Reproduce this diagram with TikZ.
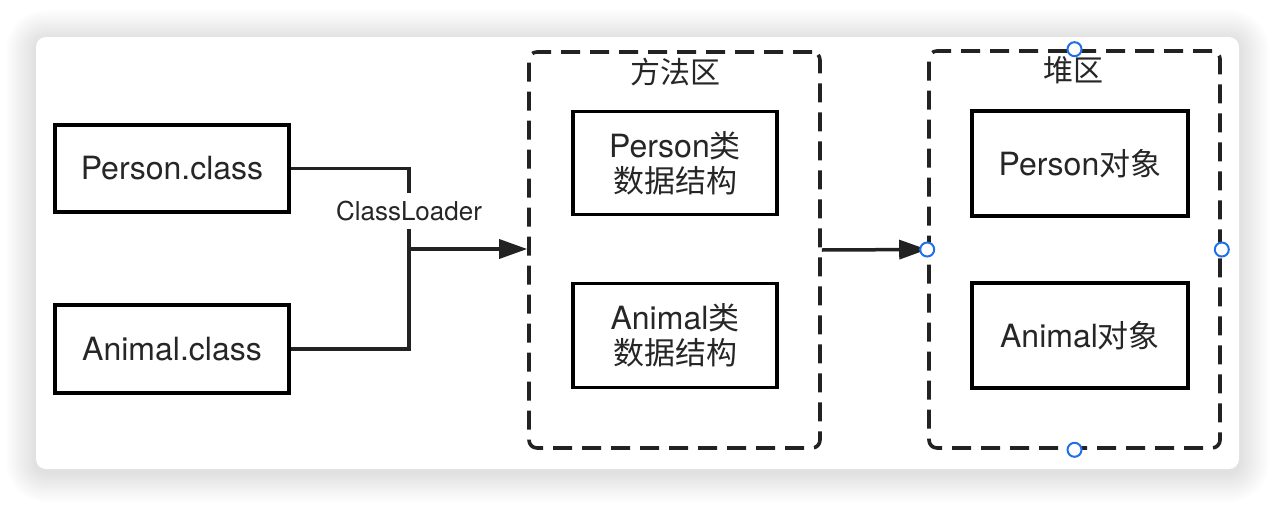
\documentclass[tikz,border=0pt]{standalone}
\usepackage{fontspec}
\setmainfont{TeX Gyre Heros}
\newfontfamily\cjk{Noto Sans CJK SC}
\usetikzlibrary{arrows.meta}
\definecolor{ink}{HTML}{262626}
\definecolor{edgec}{HTML}{222222}
\definecolor{handlec}{HTML}{1F6FE8}
\newcommand\zh[1]{{\cjk\fontsize{31}{35}\selectfont #1}}
\begin{document}
\begin{tikzpicture}[x=1pt,y=-1pt,
  box/.style={draw=black,line width=3.5pt,fill=white,text=ink,align=center,inner sep=0pt,font=\fontsize{32}{35}\selectfont},
  area/.style={draw=edgec,line width=3.6pt,dash pattern=on 19pt off 10pt,rounded corners=8pt,inner sep=0pt},
  areatitle/.style={text=ink,font=\cjk\fontsize{30}{30}\selectfont,inner sep=0pt},
  link/.style={draw=edgec,line width=3.5pt},
  tip/.style={-{Triangle[length=28pt,width=19pt]}},
  handle/.style={circle,draw=handlec,fill=white,line width=2pt,minimum size=14pt,inner sep=0pt}
]
\useasboundingbox (0,0) rectangle (1276,506);
\fill[white] (0,0) rectangle (1276,506);
% soft shadow of the card
\foreach \i [evaluate=\i as \d using \i*2, evaluate=\i as \r using 10+\i*2] in {1,...,15}{
  \fill[black,opacity=0.0085,rounded corners=\r pt] (36-\d,40-\d) rectangle (1239+\d,472+\d);
}
\node[fill=white,rounded corners=10pt,minimum width=1203pt,minimum height=432pt,inner sep=0pt] (card) at (637.5,253) {};

% class files
\node[box,minimum width=234pt,minimum height=87pt] (pc) at (172,168.5) {Person.class};
\node[box,minimum width=234pt,minimum height=88pt] (ac) at (172,349) {Animal.class};

% method area
\node[area,minimum width=291pt,minimum height=396pt] (ma) at (674.5,250) {};
\node[areatitle] (mat) at (675,72) {方法区};
\node[box,minimum width=204pt,minimum height=103pt] (pd) at (675,163) {Person\zh{类}\\\zh{数据结构}};
\node[box,minimum width=204pt,minimum height=104pt] (ad) at (675,335.5) {Animal\zh{类}\\\zh{数据结构}};

% heap
\node[area,minimum width=291pt,minimum height=397pt] (ha) at (1074.5,249.5) {};
\node[areatitle] (hat) at (1073,70) {堆区};
\node[box,minimum width=216pt,minimum height=105pt] (po) at (1080,163.5) {Person\zh{对象}};
\node[box,minimum width=216pt,minimum height=105pt] (ao) at (1080,335.5) {Animal\zh{对象}};

% connectors
\coordinate (J) at (409,249);
\draw[link] (pc.east) -| (J);
\draw[link] (ac.east) -| (J);
\draw[link,tip] (J) -- (J -| ma.west);
\node[fill=white,text=ink,font=\fontsize{26}{26}\selectfont,inner xsep=2pt,minimum height=36pt] (cl) at (409,211) {ClassLoader};
\draw[link,tip] (ma.east) -- (ha.west);

% selection handles
\node[handle] (h1) at (ha.north) {};
\node[handle] (h2) at (ha.west) {};
\node[handle] (h3) at (ha.east) {};
\node[handle] (h4) at (ha.south) {};
\end{tikzpicture}
\end{document}
